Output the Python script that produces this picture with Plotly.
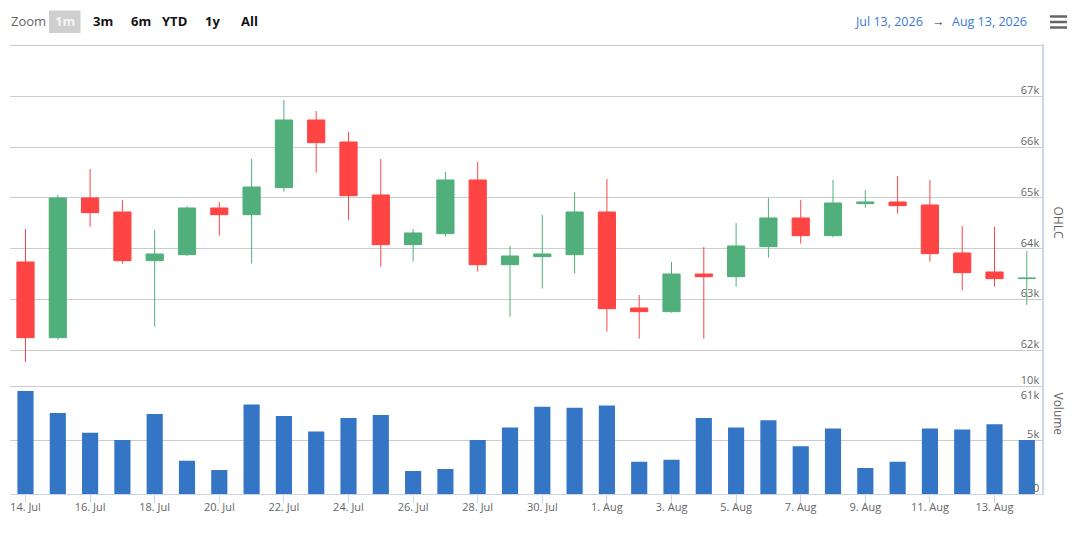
import plotly.graph_objects as go

# ---------------- data ----------------
dates = [
    "2026-07-14", "2026-07-15", "2026-07-16", "2026-07-17", "2026-07-18", "2026-07-19",
    "2026-07-20", "2026-07-21", "2026-07-22", "2026-07-23", "2026-07-24", "2026-07-25",
    "2026-07-26", "2026-07-27", "2026-07-28", "2026-07-29", "2026-07-30", "2026-07-31",
    "2026-08-01", "2026-08-02", "2026-08-03", "2026-08-04", "2026-08-05", "2026-08-06",
    "2026-08-07", "2026-08-08", "2026-08-09", "2026-08-10", "2026-08-11", "2026-08-12",
    "2026-08-13", "2026-08-14",
]
open_ = [63739, 62249, 64999, 64723, 63765, 63883, 64802, 64670, 65202, 66534, 66101, 65058,
         64080, 64296, 65353, 63686, 63844, 63883, 64723, 62833, 62761, 63502, 63450, 64041,
         64605, 64257, 64887, 64920, 64861, 63916, 63542, 63412]
high = [64388, 65058, 65569, 64959, 64369, 64841, 64920, 65766, 66928, 66711, 66298, 65766,
        64388, 65510, 65707, 64054, 64664, 65117, 65373, 63088, 63739, 64034, 64506, 64999,
        64959, 65353, 65156, 65432, 65353, 64447, 64428, 63956]
low = [61770, 62210, 64434, 63706, 62466, 63857, 64257, 63706, 65123, 65497, 64565, 63647,
       63745, 64237, 63548, 62662, 63214, 63509, 62366, 62229, 62740, 62229, 63253, 63823,
       64100, 64228, 64808, 64690, 63745, 63183, 63253, 62890]
close = [62249, 64999, 64710, 63765, 63896, 64802, 64670, 65215, 66534, 66088, 65044, 64080,
         64310, 65353, 63686, 63857, 63896, 64723, 62820, 62761, 63502, 63450, 64054, 64605,
         64257, 64900, 64920, 64848, 63903, 63529, 63411, 63420]
volume = [9581, 7548, 5710, 5032, 7452, 3097, 2226, 8323, 7258, 5806, 7065, 7355,
          2129, 2323, 5032, 6194, 8129, 8032, 8226, 3000, 3194, 7065, 6194, 6871,
          4452, 6097, 2419, 3000, 6097, 6000, 6484, 5032]

ohlc_ticks = [61000, 62000, 63000, 64000, 65000, 66000, 67000, 68000]
ohlc_labels = ["61k", "62k", "63k", "64k", "65k", "66k", "67k", ""]
vol_ticks = [0, 5000, 10000, 15000]
vol_labels = ["0", "5k", "10k", ""]
zoom_buttons = ["1m", "3m", "6m", "YTD", "1y", "All"]
range_from = "Jul 13, 2026"
range_to = "Aug 13, 2026"

# ---------------- styling ----------------
W, H = 1080, 534
ML, MR, MT, MB = 10, 38, 44, 40
PW, PH = W - ML - MR, H - MT - MB
FONT = "Open Sans"
GRID = "#cccccc"
AXLINE = "#ccd6eb"
TXT = "#666666"
UP = "#51af7b"
DOWN = "#ff4444"
VOL = "#3575c6"


def px(x):
    return (x - ML) / PW


def py(y):
    return (H - MB - y) / PH


fig = go.Figure()
fig.add_trace(go.Candlestick(
    x=dates, open=open_, high=high, low=low, close=close,
    increasing=dict(line=dict(color=UP, width=1), fillcolor=UP),
    decreasing=dict(line=dict(color=DOWN, width=1), fillcolor=DOWN),
    whiskerwidth=0, xaxis="x", yaxis="y", name="OHLC", showlegend=False,
))
fig.add_trace(go.Bar(
    x=dates, y=volume, marker=dict(color=VOL, line=dict(width=0)),
    xaxis="x", yaxis="y2", name="Volume", showlegend=False,
))

yax_common = dict(
    side="right", anchor="x", ticklabelposition="inside", ticks="",
    ticklabelshift=-6, ticklabelstandoff=2, ticklabeloverflow="allow",
    showgrid=True, gridcolor=GRID, gridwidth=1, zeroline=False,
    showline=True, linecolor=AXLINE, linewidth=2,
    tickfont=dict(size=11, color=TXT),
)

fig.update_layout(
    width=W, height=H,
    margin=dict(l=ML, r=MR, t=MT, b=MB),
    paper_bgcolor="white", plot_bgcolor="rgba(0,0,0,0)",
    font=dict(family=FONT, color=TXT, size=11),
    showlegend=False,
    bargap=0.5, boxgap=0.24,
    xaxis=dict(
        type="date", anchor="y2", domain=[0, 1],
        range=["2026-07-13 12:29", "2026-08-14 11:17"],
        tick0="2026-07-14", dtick=2 * 86400000, tickformat="%-d. %b",
        showgrid=False, showline=True, linecolor=AXLINE, linewidth=1,
        ticks="outside", ticklen=8, tickcolor=AXLINE, tickwidth=1,
        tickfont=dict(size=11, color=TXT), ticklabelstandoff=-5,
        rangeslider=dict(visible=False), zeroline=False,
    ),
    yaxis=dict(
        domain=[(H - MB - 401.1) / PH, 1], range=[61000, 68030],
        tickvals=ohlc_ticks, ticktext=ohlc_labels, **yax_common,
    ),
    yaxis2=dict(
        domain=[0, (H - MB - 332.8) / PH], range=[0, 15000],
        tickvals=vol_ticks, ticktext=vol_labels, **yax_common,
    ),
)

ann = []
# axis titles (rotated, reading top-to-bottom)
ann.append(dict(text="OHLC", x=px(1058), y=py(222.5), textangle=90))
ann.append(dict(text="Volume", x=px(1058), y=py(413.5), textangle=90))
for a in ann:
    a.update(xref="paper", yref="paper", showarrow=False, xanchor="center", yanchor="middle",
             font=dict(family=FONT, size=12, color=TXT))

# range selector
top = [dict(text="Zoom", x=px(9), y=py(21.5), xanchor="left",
            font=dict(family=FONT, size=13, color=TXT))]
btn_centers = [64.5, 103, 141, 174, 212, 249]
for i, (lab, cx) in enumerate(zip(zoom_buttons, btn_centers)):
    top.append(dict(text=f"<b>{lab}</b>", x=px(cx), y=py(21.5), xanchor="center",
                    font=dict(family=FONT, size=13, color="#f4f4f4" if i == 0 else "#111111")))
top.append(dict(text=range_from, x=px(889), y=py(21), xanchor="center",
                font=dict(family=FONT, size=12.5, color="#3a78d6")))
top.append(dict(text="→", x=px(938), y=py(21), xanchor="center",
                font=dict(family=FONT, size=12.5, color="#333333")))
top.append(dict(text=range_to, x=px(989), y=py(21), xanchor="center",
                font=dict(family=FONT, size=12.5, color="#3a78d6")))
for a in top:
    a.update(xref="paper", yref="paper", showarrow=False, yanchor="middle")
ann.extend(top)
fig.update_layout(annotations=ann)

shapes = [dict(type="rect", xref="paper", yref="paper", x0=px(49), x1=px(80.5),
               y0=py(33), y1=py(10.5), fillcolor="#cfcfcf", line=dict(width=0), layer="below")]
for yy in (16.5, 22, 27.5):
    shapes.append(dict(type="line", xref="paper", yref="paper", x0=px(1050), x1=px(1067),
                       y0=py(yy), y1=py(yy), line=dict(color=TXT, width=2.5)))
fig.update_layout(shapes=shapes)

fig.write_html(
    "out.html",
    config={"displayModeBar": False},
    post_script="document.body.style.margin='0px';document.body.style.overflow='hidden';",
)
